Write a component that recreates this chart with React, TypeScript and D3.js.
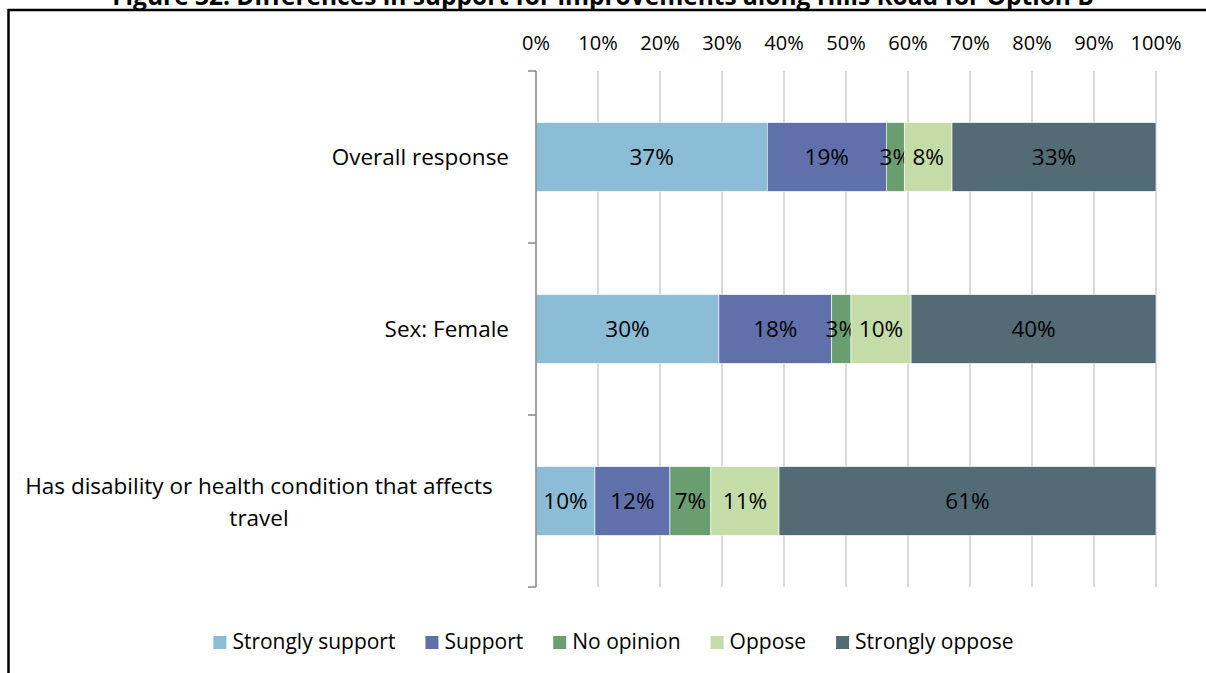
import React, { useEffect, useRef } from "react";
import * as d3 from "d3";

const TITLE = "Figure 32: Differences in support for improvements along Hills Road for Option B";
const categories = [
  "Overall response",
  "Sex: Female",
  "Has disability or health condition that affects travel",
];
const seriesNames = ["Strongly support", "Support", "No opinion", "Oppose", "Strongly oppose"];
const seriesColors = ["#8BBDD6", "#6070AA", "#6A9E70", "#C4DDA8", "#536B75"];
const stronglySupport = [37.3, 29.5, 9.5];
const support = [19.2, 18.2, 12.1];
const noOpinion = [2.9, 3.1, 6.6];
const oppose = [7.7, 9.7, 11.0];
const stronglyOppose = [32.9, 39.5, 60.8];
const tickValues = [0, 10, 20, 30, 40, 50, 60, 70, 80, 90, 100];

const FONT = "'Open Sans', 'Noto Sans', sans-serif";

export default function App() {
  const ref = useRef<SVGSVGElement | null>(null);

  useEffect(() => {
    const svg = d3.select(ref.current);
    svg.selectAll("*").remove();
    const W = 1206, H = 673;
    const x = d3.scaleLinear().domain([0, 100]).range([536, 1156]);
    const y = d3.scaleBand<string>().domain(categories).range([71, 587]).paddingInner(0.6).paddingOuter(0.3);

    svg.append("rect").attr("width", W).attr("height", H).attr("fill", "#fff");

    // title (cropped at top, as in the reference)
    svg.append("text").attr("x", 603).attr("y", 5).attr("text-anchor", "middle")
      .attr("font-family", FONT).attr("font-weight", "bold").attr("font-size", 24.5).text(TITLE);

    // frame
    svg.append("path").attr("d", `M8.5,${H} V10 H${W}`).attr("fill", "none").attr("stroke", "#000").attr("stroke-width", 2.5);

    // gridlines
    svg.append("g").selectAll("line").data(tickValues.filter(t => t > 0)).join("line")
      .attr("x1", d => x(d)).attr("x2", d => x(d)).attr("y1", 71).attr("y2", 587)
      .attr("stroke", "#D9D9D9").attr("stroke-width", 2);

    // tick labels (top)
    svg.append("g").selectAll("text").data(tickValues).join("text")
      .attr("x", d => x(d)).attr("y", 43).attr("dy", "0.35em").attr("text-anchor", "middle")
      .attr("font-family", FONT).attr("font-size", 20).attr("fill", "#000")
      .text(d => `${d}%`);

    // stacked bars
    const series = [stronglySupport, support, noOpinion, oppose, stronglyOppose];
    const rows = categories.map((c, i) => {
      const o: any = { cat: c };
      seriesNames.forEach((s, j) => (o[s] = series[j][i]));
      return o;
    });
    const stacked = d3.stack<any>().keys(seriesNames)(rows);
    stacked.forEach((layer, j) => {
      const g = svg.append("g");
      g.selectAll("rect").data(layer).join("rect")
        .attr("x", d => x(d[0])).attr("width", d => x(d[1]) - x(d[0]))
        .attr("y", d => y(d.data.cat)!).attr("height", y.bandwidth())
        .attr("fill", seriesColors[j]).attr("stroke", "#fff").attr("stroke-width", 0.6);
      g.selectAll("text").data(layer).join("text")
        .attr("x", d => (x(d[0]) + x(d[1])) / 2)
        .attr("y", d => y(d.data.cat)! + y.bandwidth() / 2)
        .attr("dy", "0.35em").attr("text-anchor", "middle")
        .attr("font-family", FONT).attr("font-size", 22.5).attr("fill", "#000")
        .text(d => `${Math.round(d[1] - d[0])}%`);
    });

    // left axis
    svg.append("line").attr("x1", 536).attr("x2", 536).attr("y1", 71).attr("y2", 587)
      .attr("stroke", "#868686").attr("stroke-width", 1.5);
    const bounds = [0, 1, 2, 3].map(i => 71 + i * y.step());
    svg.append("g").selectAll("line").data(bounds).join("line")
      .attr("x1", 528).attr("x2", 536).attr("y1", d => d).attr("y2", d => d)
      .attr("stroke", "#868686").attr("stroke-width", 1.5);

    // category labels
    categories.forEach((c, i) => {
      const cy = y(c)! + y.bandwidth() / 2;
      if (i === 2) {
        const lines = ["Has disability or health condition that affects", "travel"];
        lines.forEach((l, k) => {
          svg.append("text").attr("x", 259).attr("y", cy - 15 + k * 32).attr("dy", "0.35em")
            .attr("text-anchor", "middle").attr("font-family", FONT).attr("font-size", 22.5).text(l);
        });
      } else {
        svg.append("text").attr("x", 509).attr("y", cy).attr("dy", "0.35em")
          .attr("text-anchor", "end").attr("font-family", FONT).attr("font-size", 22.5).text(c);
      }
    });

    // legend
    const lg = svg.append("g");
    const items = seriesNames.map((s, j) => {
      const g = lg.append("g");
      g.append("rect").attr("x", 0).attr("y", 636).attr("width", 13).attr("height", 13).attr("fill", seriesColors[j]);
      const t = g.append("text").attr("x", 19).attr("y", 642).attr("dy", "0.35em")
        .attr("font-family", FONT).attr("font-size", 21).text(s);
      const w = 19 + (t.node() as SVGTextElement).getComputedTextLength();
      return { g, w };
    });
    const gap = 30;
    const total = d3.sum(items, d => d.w) + gap * (items.length - 1);
    let cx = 613.5 - total / 2;
    items.forEach(it => {
      it.g.attr("transform", `translate(${cx},0)`);
      cx += it.w + gap;
    });
  }, []);

  return (
    <svg ref={ref} width={1206} height={673}
      style={{ position: "absolute", left: 0, top: 0, display: "block" }} />
  );
}
